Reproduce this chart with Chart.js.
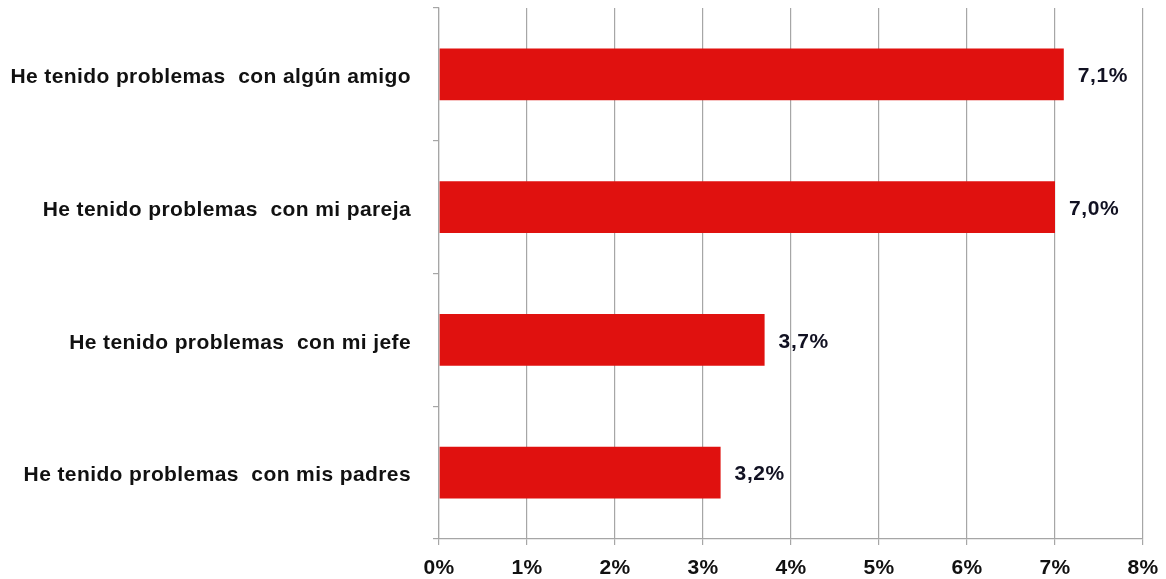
<!DOCTYPE html>
<html>
<head>
<meta charset="utf-8">
<script src="https://cdn.jsdelivr.net/npm/chart.js@4/dist/chart.umd.min.js"></script>
<style>
  html, body { margin: 0; padding: 0; background: #ffffff; }
  #wrap { width: 1166px; height: 579px; }
</style>
</head>
<body>
<div id="wrap"><canvas id="c"></canvas></div>
<script>
const categories = [
  'He tenido problemas  con algún amigo',
  'He tenido problemas  con mi pareja',
  'He tenido problemas  con mi jefe',
  'He tenido problemas  con mis padres'
];
const values = [7.1, 7.0, 3.7, 3.2];
const xTicks = [0, 1, 2, 3, 4, 5, 6, 7, 8];

const FONT = '"Liberation Sans", Arial, sans-serif';

// Slightly looser tracking for all chart text
const tracking = {
  id: 'tracking',
  beforeDraw(chart) { chart.ctx.letterSpacing = '0.4px'; },
  afterDraw(chart) { chart.ctx.letterSpacing = '0px'; }
};

// Writes each bar's value, Spanish decimal comma, just past the bar end
const valueLabels = {
  id: 'valueLabels',
  afterDatasetsDraw(chart) {
    const ctx = chart.ctx;
    const meta = chart.getDatasetMeta(0);
    ctx.save();
    ctx.letterSpacing = '0.6px';
    ctx.font = 'bold 21px ' + FONT;
    ctx.fillStyle = '#111122';
    ctx.textAlign = 'left';
    ctx.textBaseline = 'middle';
    meta.data.forEach((bar, i) => {
      const txt = values[i].toFixed(1).replace('.', ',') + '%';
      ctx.fillText(txt, bar.x + 14, bar.y + 2);
    });
    ctx.restore();
  }
};

new Chart(document.getElementById('c'), {
  type: 'bar',
  data: {
    labels: categories,
    datasets: [{
      data: values,
      backgroundColor: '#E0110F',
      borderWidth: 0,
      categoryPercentage: 1,
      barPercentage: 0.39
    }]
  },
  options: {
    indexAxis: 'y',
    responsive: true,
    maintainAspectRatio: false,
    animation: false,
    layout: { padding: { top: 8, right: 23, bottom: 0, left: 0 } },
    plugins: {
      legend: { display: false },
      tooltip: { enabled: false }
    },
    scales: {
      x: {
        min: 0,
        max: 8,
        afterBuildTicks(scale) {
          scale.ticks = xTicks.map(v => ({ value: v }));
        },
        afterFit(scale) {
          scale.height = 40;
          scale.paddingLeft = 0;
          scale.paddingRight = 0;
        },
        grid: {
          color: '#a6a6a6',
          lineWidth: 1.2,
          drawTicks: true,
          tickLength: 6
        },
        border: { color: '#a6a6a6', width: 1.2 },
        ticks: {
          padding: 11,
          color: '#111111',
          font: { family: FONT, size: 21, weight: 'bold' },
          callback: v => v + '%'
        }
      },
      y: {
        afterFit(scale) {
          scale.width = 439;
          scale.paddingTop = 0;
          scale.paddingBottom = 0;
        },
        grid: {
          offset: true,
          drawOnChartArea: false,
          drawTicks: true,
          tickLength: 6,
          color: '#a6a6a6',
          lineWidth: 1.2
        },
        border: { color: '#a6a6a6', width: 1.2 },
        ticks: {
          padding: 22,
          labelOffset: 3,
          color: '#111111',
          font: { family: FONT, size: 21, weight: 'bold' }
        }
      }
    }
  },
  plugins: [tracking, valueLabels]
});
</script>
</body>
</html>
